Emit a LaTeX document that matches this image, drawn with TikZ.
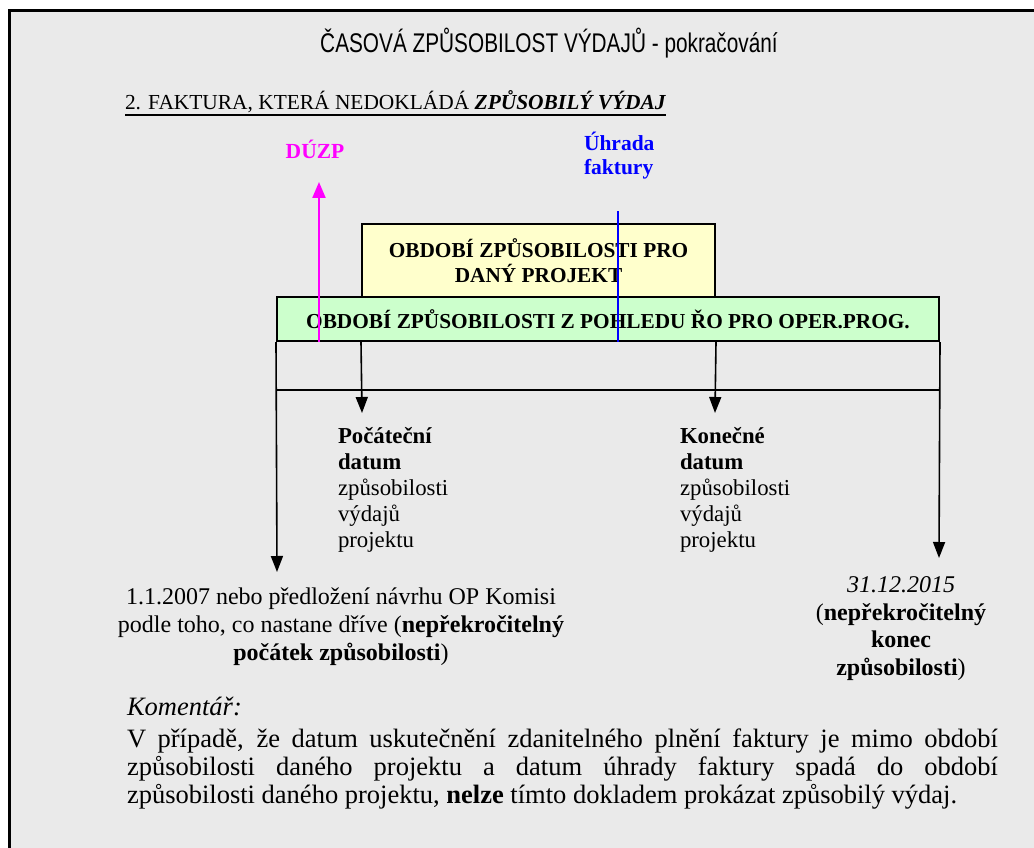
\documentclass[tikz,border=0pt]{standalone}
\usepackage{fontspec}
\setmainfont{Liberation Serif}
\newfontfamily\arialfont{Liberation Sans}
\usetikzlibrary{arrows.meta}

\definecolor{panelgrey}{HTML}{EAEAEA}
\definecolor{projyellow}{HTML}{FFFFCC}
\definecolor{opgreen}{HTML}{CCFFCC}
\definecolor{duzpmagenta}{HTML}{FF00FF}
\definecolor{uhradablue}{HTML}{0000FF}
\newcommand{\fsz}[2]{\fontsize{#1}{#2}\selectfont}

\tikzset{
  txt/.style={inner sep=0pt, outer sep=0pt},
  periodbox/.style={draw, line width=2pt, inner sep=0pt, font=\bfseries\fsz{21.3}{25}},
  timeline/.style={line width=1.6pt},
  down/.style={timeline, -{Triangle[width=12pt,length=16pt]}},
}

\begin{document}
\begin{tikzpicture}[x=1pt,y=-1pt]
  \useasboundingbox (0,0) rectangle (1034,848);
  \fill[white] (0,0) rectangle (1034,848);
  \draw[line width=2.6pt, fill=panelgrey] (9.3,10.3) rectangle (1050,870);

  \node[txt, anchor=base] (title) at (549,53)
    {\arialfont\fsz{27}{30}\scalebox{0.77}[1]{ČASOVÁ ZPŮSOBILOST VÝDAJŮ - pokračování}};
  \node[txt, anchor=base west, font=\fsz{21.4}{24}] (case) at (125,110)
    {2. FAKTURA, KTERÁ NEDOKLÁDÁ \textbf{\textit{ZPŮSOBILÝ VÝDAJ}}};
  \draw[line width=1.4pt] ([yshift=-5pt]case.base west) -- ([yshift=-5pt]case.base east);

  % periods
  \node[periodbox, fill=projyellow, minimum width=353pt, minimum height=73pt, align=center]
    (proj) at (538.5,260.5) {OBDOBÍ ZPŮSOBILOSTI PRO\\DANÝ PROJEKT};
  \node[periodbox, fill=opgreen, minimum width=662pt, minimum height=44pt]
    (op) at (608,319) {OBDOBÍ ZPŮSOBILOSTI Z POHLEDU ŘO PRO OPER.PROG.};

  \coordinate (hardstart) at (277,572);
  \coordinate (hardend) at (939,558);
  \coordinate (projstart) at (362,413);
  \coordinate (projend) at (715,413);
  \draw[timeline] ([yshift=-48pt]op.south west) -- ([yshift=-48pt]op.south east);
  \draw[down] (op.south west) -- (hardstart);
  \draw[down] (op.south east) -- (hardend);
  \draw[down] (op.south -| proj.west) -- (projstart);
  \draw[down] (op.south -| proj.east) -- (projend);

  % invoice dates
  \node[txt, anchor=base, text=duzpmagenta, font=\bfseries\fsz{21.5}{24}] (duzp) at (315,159) {DÚZP};
  \coordinate (duzptip) at (319,182);
  \draw[line width=2.2pt, duzpmagenta, -{Triangle[width=13pt,length=16pt]}]
    (duzptip |- op.south) -- (duzptip);
  \node[txt, anchor=base west, text=uhradablue, align=left, font=\bfseries\fsz{21.5}{24}]
    (uhrada) at (584,175) {Úhrada\\faktury};
  \coordinate (uhradatop) at (618,211);
  \draw[line width=1.8pt, uhradablue] (uhradatop) -- (uhradatop |- op.south);

  % labels (base = last line)
  \node[txt, anchor=base west, align=left, font=\fsz{22.8}{26}] (projstartlbl) at (338,547)
    {\textbf{Počáteční}\\\textbf{datum}\\způsobilosti\\výdajů\\projektu};
  \node[txt, anchor=base west, align=left, font=\fsz{22.8}{26}] (projendlbl) at (680,547)
    {\textbf{Konečné}\\\textbf{datum}\\způsobilosti\\výdajů\\projektu};
  \node[txt, anchor=base, align=center, font=\fsz{24}{28}] (hardstartlbl) at (341,660)
    {1.1.2007 nebo předložení návrhu OP Komisi\\podle toho, co nastane dříve (\textbf{nepřekročitelný}\\\textbf{počátek způsobilosti})};
  \node[txt, anchor=base, align=center, font=\fsz{24}{27.5}] (hardendlbl) at (901,675)
    {\textit{31.12.2015}\\(\textbf{nepřekročitelný}\\\textbf{konec}\\\textbf{způsobilosti})};

  % comment
  \node[txt, anchor=base west, font=\itshape\fsz{26.5}{28}] (comment) at (127,715) {Komentář:};
  \node[txt, anchor=base west, text width=871pt, align=justify, font=\fsz{26.5}{28}] (commenttext) at (127,747)
    {V případě, že datum uskutečnění zdanitelného plnění faktury je mimo období\linebreak
     způsobilosti daného projektu a datum úhrady faktury spadá do období\linebreak
     způsobilosti daného projektu, \textbf{nelze} tímto dokladem prokázat způsobilý výdaj.};
\end{tikzpicture}
\end{document}
